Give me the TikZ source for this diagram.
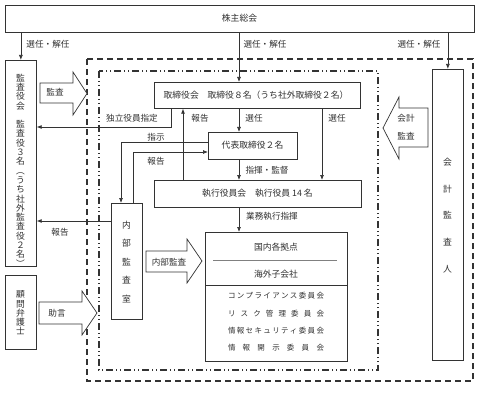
\documentclass[tikz,border=0pt]{standalone}
\usepackage{fontspec}
\setmainfont{Noto Sans CJK JP}
\usetikzlibrary{arrows.meta}
\definecolor{ln}{HTML}{333333}
\definecolor{tx}{HTML}{303030}
\tikzset{
  bx/.style={draw=ln, line width=0.7pt, inner sep=0pt, anchor=north west, fill=white},
  lbl/.style={font=\fontsize{8.6}{9}\selectfont, text=tx, inner sep=0pt},
  btx/.style={font=\fontsize{8.8}{9}\selectfont, text=tx, inner sep=0pt},
  vt/.style={font=\fontsize{8.8}{#1}\selectfont, text=tx, align=center, inner sep=0pt},
  arr/.style={draw=ln, line width=0.7pt, -{Latex[length=5pt,width=4pt]}},
  barrow/.style={draw=ln, line width=0.7pt, fill=white, line join=miter},
}
\begin{document}
\begin{tikzpicture}[x=1pt,y=-1pt]
\useasboundingbox (0,0) rectangle (488,396);
% frames
\draw[ln, line width=1.1pt, dash pattern=on 6pt off 4pt] (87,59) rectangle (473,381);
\draw[ln, line width=1.1pt, dash pattern=on 7pt off 3pt on 1pt off 3pt on 1pt off 3pt] (99,71) rectangle (378,370);
% boxes
\node[bx, minimum width=469pt, minimum height=27pt] (sh) at (5,5) {};
\node[btx] (shT) at (239.5,18.5) {株主総会};
\node[bx, minimum width=31pt, minimum height=206pt] (kansa) at (5,60) {};
\node[vt=9.3pt] (kansaT) at (20.5,171) {\lineskiplimit=-10pt 監\\査\\役\\会\\\mbox{}\\監\\査\\役\\３\\名\\\rotatebox[origin=c]{-90}{（}\\う\\ち\\社\\外\\監\\査\\役\\２\\名\\\rotatebox[origin=c]{-90}{）}};
\node[bx, minimum width=31pt, minimum height=74pt] (komon) at (5,275) {};
\node[vt=9.3pt] (komonT) at (20.5,313) {\lineskiplimit=-10pt 顧\\問\\弁\\護\\士};
\node[bx, minimum width=206pt, minimum height=26pt] (tori) at (154,82) {};
\node[btx] (toriT) at (256,95) {取締役会　取締役８名（うち社外取締役２名）};
\node[bx, minimum width=89pt, minimum height=27pt] (daihyo) at (208,132) {};
\node[btx] (daihyoT) at (252.5,145.5) {代表取締役２名};
\node[bx, minimum width=207pt, minimum height=27pt] (shikko) at (154,180) {};
\node[btx] (shikkoT) at (257.5,193.5) {執行役員会　執行役員 14 名};
\node[bx, minimum width=142pt, minimum height=129pt] (kokunai) at (205,232) {};
\draw[ln, line width=0.7pt] (kokunai.west |- 0,285) -- (kokunai.east |- 0,285);
\draw[gray, line width=0.4pt] (213,260) -- (337,260);
\node[btx] (kokT) at (276,247) {国内各拠点};
\node[btx] (kaigaiT) at (276,274) {海外子会社};
\node[lbl, font=\fontsize{7.5}{17.3}\selectfont, align=center] (iinT) at (276,322) {%
\makebox[96pt][s]{コ\hfil ン\hfil プ\hfil ラ\hfil イ\hfil ア\hfil ン\hfil ス\hfil 委\hfil 員\hfil 会}\\
\makebox[96pt][s]{リ\hfil ス\hfil ク\hfil 管\hfil 理\hfil 委\hfil 員\hfil 会}\\
\makebox[96pt][s]{情\hfil 報\hfil セ\hfil キ\hfil ュ\hfil リ\hfil テ\hfil ィ\hfil 委\hfil 員\hfil 会}\\
\makebox[96pt][s]{情\hfil 報\hfil 開\hfil 示\hfil 委\hfil 員\hfil 会}};
\node[bx, minimum width=31pt, minimum height=116pt] (naibu) at (111,203) {};
\node[vt=18.5pt] (naibuT) at (126.5,262) {\lineskiplimit=-10pt 内\\部\\監\\査\\室};
\node[bx, minimum width=31pt, minimum height=291pt] (kaikei) at (432,69) {};
\node[vt=26.8pt] (kaikeiT) at (447.5,215.5) {\lineskiplimit=-10pt 会\\計\\監\\査\\人};
% block arrows
\draw[barrow] (40,83) -- (73,83) -- (73,72) -- (87,93.5) -- (73,115) -- (73,103) -- (40,103) -- cycle;
\node[lbl] (kansaA) at (55,92) {監査};
\draw[barrow] (428,108) -- (399,108) -- (399,97) -- (383,128) -- (399,159) -- (399,147) -- (428,147) -- cycle;
\node[lbl] (kaikeiA1) at (406,118) {会計};
\node[lbl] (kaikeiA2) at (406,136) {監査};
\draw[barrow] (146,251) -- (187,251) -- (187,239) -- (202,261) -- (187,283) -- (187,272) -- (146,272) -- cycle;
\node[lbl] (naibuA) at (169,262) {内部監査};
\draw[barrow] (39,302) -- (82,302) -- (82,291) -- (97,313) -- (82,335) -- (82,324) -- (39,324) -- cycle;
\node[lbl] (jogenA) at (57,313) {助言};
% coordinates
\coordinate (cm) at (239,0);
\coordinate (cs) at (322,0);
\coordinate (cr) at (183,0);
\coordinate (dk) at (171,127);
\coordinate (sj1) at (121,142);
\coordinate (hk1) at (133,152);
\coordinate (hk2) at (0,221);
% connectors
\draw[arr] (kansa.north |- sh.south) -- (kansa.north);
\node[lbl] (l1) at (48,44) {選任・解任};
\draw[arr] (sh.south -| cm) -- (tori.north -| cm);
\node[lbl] (l2) at (265,44) {選任・解任};
\draw[arr] (kaikei.north |- sh.south) -- (kaikei.north);
\node[lbl] (l3) at (419,44) {選任・解任};
\draw[arr] (tori.south -| dk) -- (dk) -- (kansa.east |- dk);
\node[lbl] (l4) at (132,118) {独立役員指定};
\draw[arr] (shikko.north -| cr) -- (tori.south -| cr);
\node[lbl] (l5) at (200,118) {報告};
\draw[arr] (tori.south -| cm) -- (daihyo.north -| cm);
\node[lbl] (l6) at (254,118) {選任};
\draw[arr] (tori.south -| cs) -- (shikko.north -| cs);
\node[lbl] (l7) at (337,118) {選任};
\draw[arr] (daihyo.south -| cm) -- (shikko.north -| cm);
\node[lbl] (l8) at (267,170) {指揮・監督};
\draw[arr] (shikko.south -| cm) -- (kokunai.north -| cm);
\node[lbl] (l9) at (272,216) {業務執行指揮};
\draw[arr] (daihyo.west |- sj1) -- (sj1) -- (naibu.north -| sj1);
\node[lbl] (l10) at (156,137) {指示};
\draw[arr] (naibu.north -| hk1) -- (hk1) -- (daihyo.west |- hk1);
\node[lbl] (l11) at (156,161) {報告};
\draw[arr] (naibu.west |- hk2) -- (kansa.east |- hk2);
\node[lbl] (l12) at (60,232) {報告};
\end{tikzpicture}
\end{document}
